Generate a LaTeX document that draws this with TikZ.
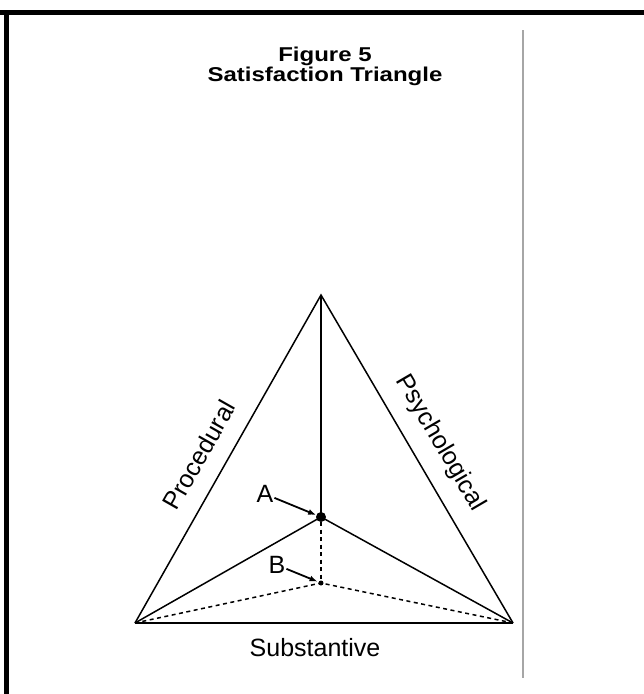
\documentclass[tikz,border=0pt]{standalone}
\usepackage{fontspec}
\usepackage{graphicx}
\setmainfont{Liberation Sans}
\usetikzlibrary{arrows.meta}
\begin{document}
\begin{tikzpicture}[x=1pt,y=-1pt,
  edge/.style={line width=1.5pt},
  baseedge/.style={line width=2.2pt},
  dashln/.style={line width=1.5pt, dash pattern=on 4pt off 3.5pt},
  lbl/.style={font=\fontsize{25}{28}\selectfont, inner sep=0pt},
  ttl/.style={font=\fontsize{20}{24}\selectfont\bfseries, inner sep=0pt, anchor=base},
  ptr/.style={line width=1.8pt, -{Latex[length=8pt,width=6pt]}},
  dotbig/.style={circle, fill=black, inner sep=0pt, minimum size=10pt},
  dotsmall/.style={circle, fill=black, inner sep=0pt, minimum size=5pt}]
\useasboundingbox (0,0) rectangle (644,694);
% frame
\draw[line width=4.5pt] (0,12.5) -- (644,12.5);
\draw[line width=5pt] (6,10) -- (6,694);
\draw[gray!70, line width=1.2pt] (523,30) -- (523,678);
% title
\node[ttl] (t1) at (325,61) {\scalebox{1.2}[1]{Figure 5}};
\node[ttl] (t2) at (325,81) {\scalebox{1.2}[1]{Satisfaction Triangle}};
% vertices
\coordinate (T) at (321,295);
\coordinate (L) at (135,623);
\coordinate (R) at (513,623);
\node[dotbig] (A) at (321,517) {};
\node[dotsmall] (B) at (321,583) {};
% triangle
\draw[edge, line join=miter] (L) -- (T) -- (R);
\draw[baseedge] (L) -- (R);
\draw[edge] (T) -- (A.center);
\draw[edge] (L) -- (A.center) -- (R);
\draw[dashln] (A) -- (B.center);
\draw[dashln] (L) -- (B.center) -- (R);
% labels
\node[lbl, rotate=60.4] (proc) at (199,455) {Procedural};
\node[lbl, rotate=-59.7] (psych) at (440,443) {Psychological};
\node[lbl] (subst) at (315,648) {Substantive};
\node[lbl] (la) at (265,494) {A};
\node[lbl] (lb) at (277,565) {B};
\draw[ptr, shorten <=1pt] (la) -- (A);
\draw[ptr, shorten <=1pt, shorten >=1pt] (lb) -- (B);
\end{tikzpicture}
\end{document}
